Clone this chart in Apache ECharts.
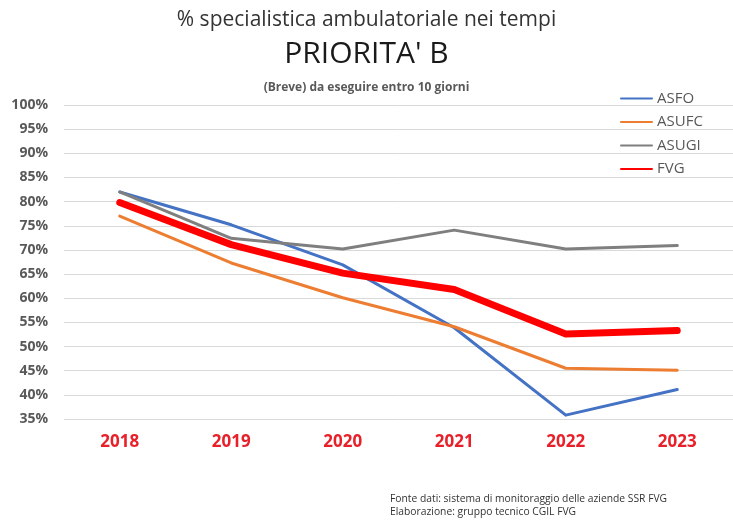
<!DOCTYPE html>
<html>
<head>
<meta charset="utf-8">
<script src="https://cdn.jsdelivr.net/npm/echarts@6/dist/echarts.min.js"></script>
<style>
  html, body { margin: 0; padding: 0; background: #fff; }
  #chart { width: 733px; height: 522px; }
</style>
</head>
<body>
<div id="chart"></div>
<script>
// anni e percentuali
var years = ['2018', '2019', '2020', '2021', '2022', '2023']
var asfo = [82, 75.2, 66.9, 53.9, 35.8, 41.1]
var asufc = [77, 67.3, 60.1, 54.1, 45.5, 45.1]
var asugi = [82, 72.4, 70.2, 74.1, 70.2, 70.9]
var fvg = [79.8, 71.1, 65.2, 61.8, 52.6, 53.3]

var chartDom = document.getElementById('chart')
var myChart = echarts.init(chartDom)
var font = '"Open Sans", sans-serif'

function line(name, data, color, width) {
  return {
    name: name,
    type: 'line',
    data: data,
    symbol: 'none',
    smooth: false,
    lineStyle: { color: color, width: width, cap: 'round', join: 'round' },
    itemStyle: { color: color },
    z: name === 'FVG' ? 5 : 3
  }
}

var option = {
  animation: false,
  backgroundColor: '#fff',
  title: [
    {
      text: '% specialistica ambulatoriale nei tempi',
      left: 'center',
      top: 5,
      textStyle: { color: '#333', fontSize: 21, fontWeight: 'normal', fontFamily: font }
    },
    {
      text: "PRIORITA' B",
      left: 'center',
      top: 34,
      textStyle: { color: '#1a1a1a', fontSize: 30, fontWeight: 'normal', fontFamily: font }
    },
    {
      text: '(Breve) da eseguire entro 10 giorni',
      left: 'center',
      top: 77,
      textStyle: { color: '#595959', fontSize: 12, fontWeight: 'bold', fontFamily: font }
    }
  ],
  legend: {
    orient: 'vertical',
    left: 615,
    top: 86,
    itemWidth: 31,
    itemHeight: 8,
    itemGap: 8.5,
    itemStyle: { opacity: 0 },
    textStyle: { color: '#595959', fontSize: 15, fontFamily: font },
    data: ['ASFO', 'ASUFC', 'ASUGI', 'FVG']
  },
  grid: {
    left: 64,
    right: -6,
    top: 105,
    bottom: 103
  },
  xAxis: {
    type: 'category',
    data: years,
    boundaryGap: true,
    axisLine: { show: false },
    axisTick: { show: false },
    axisLabel: {
      color: '#e8202a',
      fontSize: 17,
      fontWeight: 'bold',
      fontFamily: font,
      margin: 15
    }
  },
  yAxis: {
    type: 'value',
    min: 35,
    max: 100,
    interval: 5,
    axisLine: { show: false },
    axisTick: { show: false },
    splitLine: { lineStyle: { color: '#d9d9d9', width: 1 } },
    axisLabel: {
      color: '#595959',
      fontSize: 14,
      fontWeight: 'bold',
      fontFamily: font,
      margin: 16,
      formatter: '{value}%'
    }
  },
  series: [
    line('ASFO', asfo, '#4472c4', 3),
    line('ASUFC', asufc, '#ed7d31', 3),
    line('ASUGI', asugi, '#7f7f7f', 3),
    line('FVG', fvg, '#ff0000', 7)
  ],
  graphic: [
    {
      type: 'text',
      left: 390,
      top: 493,
      style: {
        text: 'Fonte dati: sistema di monitoraggio delle aziende SSR FVG\nElaborazione: gruppo tecnico CGIL FVG',
        fill: '#333',
        font: '10.3px "Open Sans", sans-serif',
        lineHeight: 13
      }
    }
  ]
}

option && myChart.setOption(option)
</script>
</body>
</html>
